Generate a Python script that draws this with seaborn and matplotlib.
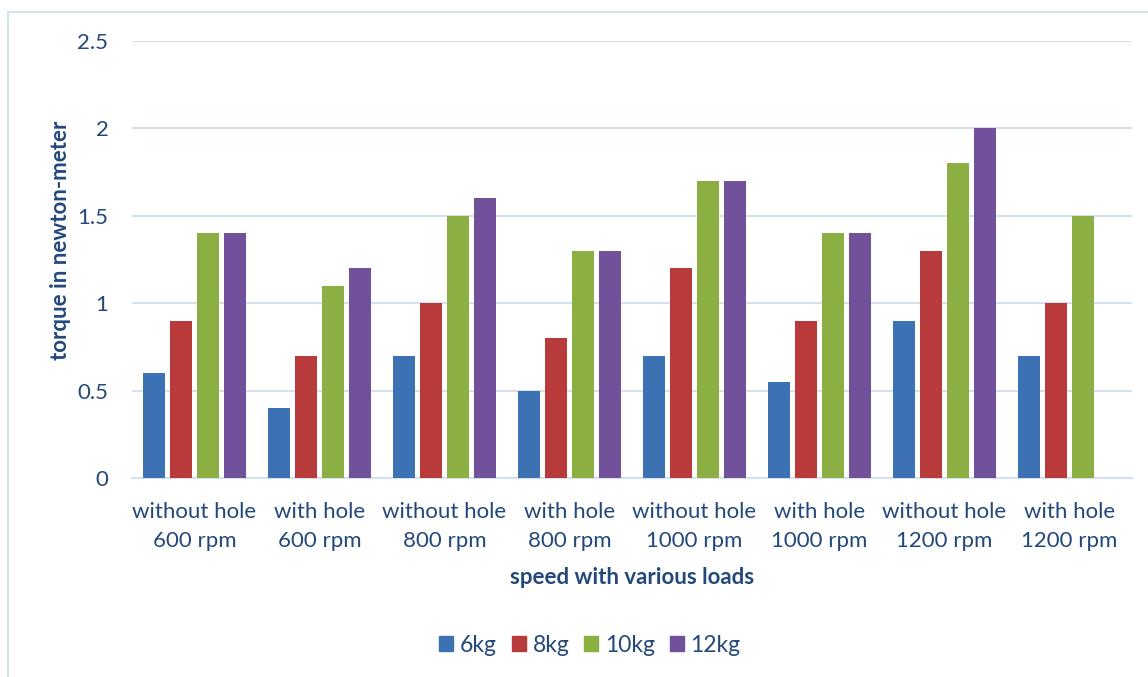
import numpy as np
import pandas as pd
import matplotlib
matplotlib.use("Agg")
import matplotlib.pyplot as plt
import seaborn as sns
from matplotlib.patches import Rectangle

categories = ["without hole\n600 rpm", "with hole\n600 rpm", "without hole\n800 rpm",
              "with hole\n800 rpm", "without hole\n1000 rpm", "with hole\n1000 rpm",
              "without hole\n1200 rpm", "with hole\n1200 rpm"]
loads = ["6kg", "8kg", "10kg", "12kg"]
v6 = [0.6, 0.4, 0.7, 0.5, 0.7, 0.55, 0.9, 0.7]
v8 = [0.9, 0.7, 1.0, 0.8, 1.2, 0.9, 1.3, 1.0]
v10 = [1.4, 1.1, 1.5, 1.3, 1.7, 1.4, 1.8, 1.5]
v12 = [1.4, 1.2, 1.6, 1.3, 1.7, 1.4, 2.0, np.nan]
yticks = [0, 0.5, 1, 1.5, 2, 2.5]
ytick_labels = ["0", "0.5", "1", "1.5", "2", "2.5"]
colors = ["#3C71B3", "#B83A3A", "#8BAF42", "#71519A"]

rows = []
for load, vals in zip(loads, [v6, v8, v10, v12]):
    for c, v in zip(categories, vals):
        rows.append({"category": c, "load": load, "torque": v})
df = pd.DataFrame(rows)

sns.set_theme(style="white")
plt.rcParams['font.family'] = ['Lato', 'DejaVu Sans']
text_color = "#23487A"
grid_color = "#D6E1F0"

fig = plt.figure(figsize=(11.48, 6.77), dpi=100)
ax = fig.add_axes([132/1148, 1 - 478/677, 1000/1148, (478-41)/677])

sns.barplot(data=df, x="category", y="torque", hue="load", order=categories,
            hue_order=loads, palette=colors, width=0.865, gap=0.17,
            saturation=1, ax=ax, errorbar=None, zorder=3, linewidth=0)

ax.set_ylim(0, 2.5)
ax.set_xlim(-0.5, len(categories) - 0.5)
ax.set_yticks(yticks)
ax.set_yticklabels(ytick_labels)
ax.yaxis.grid(True, color=grid_color, linewidth=1.5, zorder=0)
ax.set_axisbelow(True)
for s in ["top", "right", "left"]:
    ax.spines[s].set_visible(False)
ax.spines["bottom"].set_color(grid_color)
ax.spines["bottom"].set_linewidth(1.5)
ax.tick_params(axis="both", length=0, labelsize=16, colors=text_color)
ax.tick_params(axis="y", pad=17)
ax.tick_params(axis="x", pad=17)
for lbl in ax.get_xticklabels():
    lbl.set_linespacing(1.6)

ax.set_xlabel("speed with various loads", fontsize=16, fontweight="bold",
              color=text_color)
ax.xaxis.set_label_coords(0.5, (478 - 577) / 437, transform=ax.transAxes)
ax.xaxis.label.set_verticalalignment("center")
ax.set_ylabel("torque in newton-meter", fontsize=16, fontweight="bold",
              color=text_color)
ax.yaxis.set_label_coords((60 - 132) / 1000, (478 - 240) / 437)
ax.yaxis.label.set_verticalalignment("center")

ax.legend_.remove()
handles = [Rectangle((0, 0), 1, 1, color=c) for c in colors]
fig.legend(handles, loads, loc="center", bbox_to_anchor=(590/1148, 1 - 645/677),
           ncol=4, frameon=False, fontsize=16.5, handlelength=0.6, handleheight=0.6,
           handletextpad=0.3, columnspacing=0.65, labelcolor=text_color)

border = Rectangle((8/1148, -0.1), 1.2, 1 - 12/677 + 0.1, transform=fig.transFigure,
                   fill=False, edgecolor="#D6E1F0", linewidth=1.5)
fig.patches.append(border)

fig.savefig("out.png", dpi=100, facecolor="white")
